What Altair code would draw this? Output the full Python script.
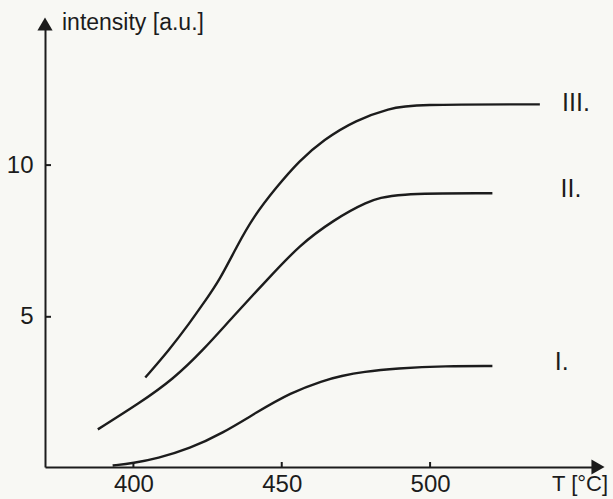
import altair as alt
import pandas as pd

# ---- data ----
t_I = [393, 400, 408, 419, 430, 441.5, 453, 464, 470, 477.5, 488.5, 505.5, 521]
i_I = [0.1, 0.18, 0.33, 0.66, 1.16, 1.85, 2.5, 2.9, 3.05, 3.19, 3.3, 3.38, 3.38]

t_II = [388, 402, 413.5, 423.5, 433.5, 445, 456, 467.5, 478.5, 487.5, 521]
i_II = [1.29, 2.15, 2.95, 3.9, 5.0, 6.21, 7.37, 8.19, 8.79, 9.07, 9.07]

t_III = [404, 412, 419, 424, 429, 435, 440.5, 448, 456, 464, 475, 486.5, 494, 537]
i_III = [3.0, 3.9, 4.8, 5.5, 6.2, 7.35, 8.3, 9.25, 10.15, 10.83, 11.49, 11.87, 12.0, 12.0]

curve_names = ["I.", "II.", "III."]
label_t = [542, 544, 544.5]
label_i = [3.5, 9.2, 12.05]

x_ticks = [400, 450, 500]
y_ticks = [5, 10]

x_title = "T [°C]"
y_title = "intensity [a.u.]"

# ---- tables ----
rows = []
for name, ts, vs in zip(curve_names, [t_I, t_II, t_III], [i_I, i_II, i_III]):
    for k, (t, v) in enumerate(zip(ts, vs)):
        rows.append({"curve": name, "T": t, "I": v, "k": k})
df = pd.DataFrame(rows)
labels = pd.DataFrame({"curve": curve_names, "T": label_t, "I": label_i})
xt = pd.DataFrame({"T": x_ticks})
yt = pd.DataFrame({"I": y_ticks})

INK = "#1c1c1c"
FONT = "Liberation Sans, Arial, sans-serif"
W, H = 553, 443

xs = alt.Scale(domain=[370.2, 556.6], nice=False, zero=False)
ys = alt.Scale(domain=[0.05, 14.65], nice=False, zero=False)
xa = alt.Axis(values=x_ticks, title=None, ticks=False, grid=False, domain=True,
              domainColor=INK, domainWidth=2, labelFont=FONT, labelFontSize=24,
              labelColor=INK, labelPadding=5)
ya = alt.Axis(values=y_ticks, title=None, ticks=False, grid=False, domain=True,
              domainColor=INK, domainWidth=2, labelFont=FONT, labelFontSize=24,
              labelColor=INK, labelPadding=12)

lines = alt.Chart(df).mark_line(color=INK, strokeWidth=2.4, interpolate="basis").encode(
    x=alt.X("T:Q", scale=xs, axis=xa),
    y=alt.Y("I:Q", scale=ys, axis=ya),
    detail="curve:N",
    order="k:Q",
)

curve_labels = alt.Chart(labels).mark_text(
    align="left", baseline="middle", font=FONT, fontSize=25, color=INK
).encode(
    x=alt.X("T:Q", scale=xs, axis=xa),
    y=alt.Y("I:Q", scale=ys, axis=ya),
    text="curve:N",
)

xtick_marks = alt.Chart(xt).mark_rule(color=INK, strokeWidth=2).encode(
    x=alt.X("T:Q", scale=xs, axis=xa),
    y=alt.value(H),
    y2=alt.value(H - 5),
)

ytick_marks = alt.Chart(yt).mark_rule(color=INK, strokeWidth=2).encode(
    y=alt.Y("I:Q", scale=ys, axis=ya),
    x=alt.value(0),
    x2=alt.value(6),
)

arrow_y = alt.Chart(pd.DataFrame({"a": [0]})).mark_point(
    shape="triangle-up", filled=True, size=230, color=INK, opacity=1
).encode(x=alt.value(0), y=alt.value(0))

arrow_x = alt.Chart(pd.DataFrame({"a": [0]})).mark_point(
    shape="triangle-right", filled=True, size=230, color=INK, opacity=1
).encode(x=alt.value(W), y=alt.value(H))

ytitle = alt.Chart(pd.DataFrame({"t": [y_title]})).mark_text(
    align="left", baseline="alphabetic", font=FONT, fontSize=23, color=INK
).encode(x=alt.value(17), y=alt.value(6), text="t:N")

xtitle = alt.Chart(pd.DataFrame({"t": [x_title]})).mark_text(
    align="left", baseline="alphabetic", font=FONT, fontSize=22, color=INK
).encode(x=alt.value(507), y=alt.value(467), text="t:N")

chart = alt.layer(
    lines, curve_labels, xtick_marks, ytick_marks, arrow_y, arrow_x, ytitle, xtitle
).properties(
    width=W,
    height=H,
    autosize=alt.AutoSizeParams(type="none"),
    padding={"left": 45, "top": 24, "right": 15, "bottom": 32},
    background="#f8f8f4",
).configure_view(stroke=None)

chart.save("out.html", embed_options={"renderer": "svg", "actions": False})
